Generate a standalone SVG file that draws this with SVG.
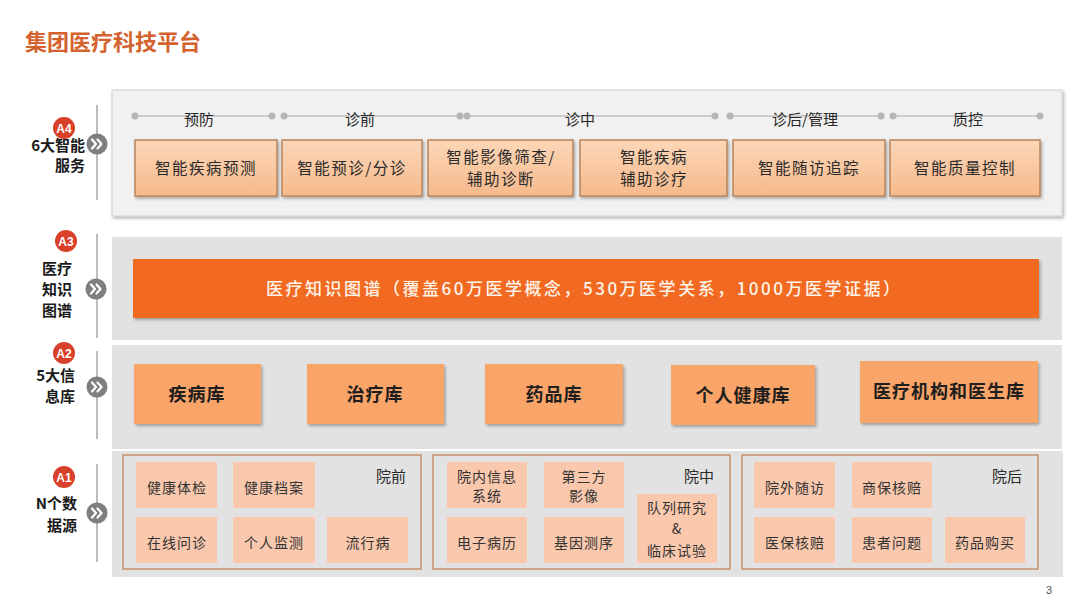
<svg xmlns="http://www.w3.org/2000/svg" width="1080" height="608" viewBox="0 0 1080 608">
<defs>
<style>
.cjk{font-family:"Noto Sans CJK SC","Liberation Sans",sans-serif;}
.title{font-size:22px;font-weight:700;fill:#d4622e;}
.side{font-size:15px;font-weight:700;fill:#1a1a1a;}
.badge{fill:#d9402a;}
.badgeT{font-family:"Liberation Sans",sans-serif;font-size:12px;font-weight:700;fill:#fff;text-anchor:middle;}
.vline{stroke:#a6a6a6;stroke-width:1.5;}
.chev{fill:#7f7f7f;}
.chevP{fill:none;stroke:#fff;stroke-width:2.2;stroke-linecap:round;stroke-linejoin:round;}
.panel{fill:#e2e2e2;}
.panel4{fill:#f1f1f1;stroke:#d0d0d0;stroke-width:1;}
.tl{stroke:#a8a8a8;stroke-width:1.2;}
.dot{fill:#b5b5b5;}
.phase{font-size:15px;fill:#262626;text-anchor:middle;}
.box4{fill:url(#g4);stroke:#b8845c;stroke-width:1.5;}
.t4{font-size:15.5px;fill:#2b2b2b;text-anchor:middle;letter-spacing:1.5px;}
.bar{fill:#f26a22;}
.tbar{font-size:17px;font-weight:500;fill:#fff4ea;text-anchor:middle;}
.box2{fill:#f9a467;}
.t2{font-size:18px;font-weight:700;fill:#1e1e1e;text-anchor:middle;letter-spacing:1px;}
.grp{fill:none;stroke:#c38456;stroke-width:1.3;}
.box1{fill:#f9c8ad;}
.t1{font-size:14px;fill:#333;text-anchor:middle;letter-spacing:1px;}
.gl{font-size:15px;fill:#2b2b2b;text-anchor:end;}
</style>
<linearGradient id="g4" x1="0" y1="0" x2="0" y2="1">
<stop offset="0" stop-color="#fcd7b8"/>
<stop offset="1" stop-color="#f6b98b"/>
</linearGradient>
<filter id="sh" x="-5%" y="-10%" width="110%" height="130%">
<feDropShadow dx="1.5" dy="2" stdDeviation="1.5" flood-color="#000" flood-opacity="0.3"/>
</filter>
<g id="chevron">
<circle r="10.5" class="chev"/>
<path class="chevP" d="M-5,-4.5 L-1,0 L-5,4.5 M0.5,-4.5 L4.5,0 L0.5,4.5"/>
</g>
</defs>

<rect width="1080" height="608" fill="#ffffff"/>

<text id="title" class="cjk title" x="25" y="50">集团医疗科技平台</text>

<!-- A4 -->
<g id="A4-label">
<line class="vline" x1="97" y1="105" x2="97" y2="200"/>
<circle class="badge" cx="64" cy="128" r="11"/>
<text class="badgeT" x="64" y="132.5">A4</text>
<text class="cjk side" x="85" y="151" text-anchor="end">6大智能</text>
<text class="cjk side" x="85" y="171" text-anchor="end">服务</text>
<use href="#chevron" x="97" y="144"/>
</g>
<g id="A4-panel">
<rect class="panel4" x="112" y="90" width="950" height="126" filter="url(#sh)"/>
<g id="timeline">
<line class="tl" x1="135" y1="116" x2="272" y2="116"/>
<circle class="dot" cx="135" cy="116" r="3.5"/><circle class="dot" cx="272" cy="116" r="3.5"/>
<line class="tl" x1="284" y1="116" x2="460" y2="116"/>
<circle class="dot" cx="284" cy="116" r="3.5"/><circle class="dot" cx="460" cy="116" r="3.5"/>
<line class="tl" x1="467" y1="116" x2="715" y2="116"/>
<circle class="dot" cx="467" cy="116" r="3.5"/><circle class="dot" cx="715" cy="116" r="3.5"/>
<line class="tl" x1="730" y1="116" x2="881" y2="116"/>
<circle class="dot" cx="730" cy="116" r="3.5"/><circle class="dot" cx="881" cy="116" r="3.5"/>
<line class="tl" x1="893" y1="116" x2="1040" y2="116"/>
<circle class="dot" cx="893" cy="116" r="3.5"/><circle class="dot" cx="1040" cy="116" r="3.5"/>
<text class="cjk phase" x="199" y="125">预防</text>
<text class="cjk phase" x="360" y="125">诊前</text>
<text class="cjk phase" x="580" y="125">诊中</text>
<text class="cjk phase" x="805" y="125">诊后/管理</text>
<text class="cjk phase" x="968" y="125">质控</text>
</g>
</g>
<g id="s1"><rect class="box4" x="135" y="140" width="142" height="56" filter="url(#sh)"/><text class="cjk t4" x="206" y="174">智能疾病预测</text></g>
<g id="s2"><rect class="box4" x="282" y="140" width="140" height="56" filter="url(#sh)"/><text class="cjk t4" x="352" y="174">智能预诊/分诊</text></g>
<g id="s3"><rect class="box4" x="428" y="140" width="145" height="56" filter="url(#sh)"/><text class="cjk t4" x="501" y="163">智能影像筛查/</text><text class="cjk t4" x="501" y="185">辅助诊断</text></g>
<g id="s4"><rect class="box4" x="580" y="140" width="147" height="56" filter="url(#sh)"/><text class="cjk t4" x="654" y="163">智能疾病</text><text class="cjk t4" x="654" y="185">辅助诊疗</text></g>
<g id="s5"><rect class="box4" x="733" y="140" width="152" height="56" filter="url(#sh)"/><text class="cjk t4" x="809" y="174">智能随访追踪</text></g>
<g id="s6"><rect class="box4" x="890" y="140" width="150" height="56" filter="url(#sh)"/><text class="cjk t4" x="965" y="174">智能质量控制</text></g>

<!-- A3 -->
<g id="A3-label">
<line class="vline" x1="97" y1="234" x2="97" y2="338"/>
<circle class="badge" cx="66" cy="241" r="11"/>
<text class="badgeT" x="66" y="245.5">A3</text>
<text class="cjk side" x="57" y="274" text-anchor="middle">医疗</text>
<text class="cjk side" x="57" y="295" text-anchor="middle">知识</text>
<text class="cjk side" x="57" y="316" text-anchor="middle">图谱</text>
<use href="#chevron" x="96" y="289"/>
</g>
<g id="A3-panel">
<rect class="panel" x="112" y="237" width="950" height="103"/>
</g>
<g id="kg">
<rect class="bar" x="133" y="259" width="906" height="59" filter="url(#sh)"/>
<text class="cjk tbar" x="583" y="295" textLength="634" lengthAdjust="spacing">医疗知识图谱（覆盖60万医学概念，530万医学关系，1000万医学证据）</text>
</g>

<!-- A2 -->
<g id="A2-label">
<line class="vline" x1="97" y1="351" x2="97" y2="439"/>
<circle class="badge" cx="64" cy="353" r="11"/>
<text class="badgeT" x="64" y="357.5">A2</text>
<text class="cjk side" x="75" y="381" text-anchor="end">5大信</text>
<text class="cjk side" x="75" y="402" text-anchor="end">息库</text>
<use href="#chevron" x="97" y="387"/>
</g>
<g id="A2-panel"><rect class="panel" x="112" y="345" width="950" height="104"/></g>
<g id="db1"><rect class="box2" x="134" y="364" width="127" height="60" filter="url(#sh)"/><text class="cjk t2" x="197" y="401">疾病库</text></g>
<g id="db2"><rect class="box2" x="307" y="364" width="137" height="60" filter="url(#sh)"/><text class="cjk t2" x="375" y="401">治疗库</text></g>
<g id="db3"><rect class="box2" x="485" y="364" width="138" height="60" filter="url(#sh)"/><text class="cjk t2" x="554" y="401">药品库</text></g>
<g id="db4"><rect class="box2" x="671" y="365" width="144" height="60" filter="url(#sh)"/><text class="cjk t2" x="743" y="402">个人健康库</text></g>
<g id="db5"><rect class="box2" x="860" y="361" width="178" height="62" filter="url(#sh)"/><text class="cjk t2" x="949" y="398">医疗机构和医生库</text></g>

<!-- A1 -->
<g id="A1-label">
<line class="vline" x1="97" y1="464" x2="97" y2="562"/>
<circle class="badge" cx="64" cy="477" r="11"/>
<text class="badgeT" x="64" y="481.5">A1</text>
<text class="cjk side" x="77" y="509" text-anchor="end">N个数</text>
<text class="cjk side" x="77" y="531" text-anchor="end">据源</text>
<use href="#chevron" x="97" y="513"/>
</g>
<g id="A1-panel"><rect class="panel" x="112" y="451" width="951" height="126" fill="#e0e1e3"/></g>

<g id="pre">
<rect class="grp" x="123" y="455" width="298" height="114"/>
<text class="cjk gl" x="406" y="482">院前</text>
<g id="pre1"><rect class="box1" x="136" y="462" width="81" height="46"/><text class="cjk t1" x="177" y="493">健康体检</text></g>
<g id="pre2"><rect class="box1" x="233" y="462" width="82" height="46"/><text class="cjk t1" x="274" y="493">健康档案</text></g>
<g id="pre3"><rect class="box1" x="136" y="517" width="81" height="46"/><text class="cjk t1" x="177" y="548">在线问诊</text></g>
<g id="pre4"><rect class="box1" x="233" y="517" width="82" height="46"/><text class="cjk t1" x="274" y="548">个人监测</text></g>
<g id="pre5"><rect class="box1" x="327" y="517" width="81" height="46"/><text class="cjk t1" x="368" y="548">流行病</text></g>
</g>

<g id="mid">
<rect class="grp" x="433" y="455" width="297" height="114"/>
<text class="cjk gl" x="714" y="482">院中</text>
<g id="mid1"><rect class="box1" x="447" y="462" width="80" height="46"/><text class="cjk t1" x="487" y="482">院内信息</text><text class="cjk t1" x="487" y="501">系统</text></g>
<g id="mid2"><rect class="box1" x="544" y="462" width="80" height="46"/><text class="cjk t1" x="584" y="482">第三方</text><text class="cjk t1" x="584" y="501">影像</text></g>
<g id="mid3"><rect class="box1" x="447" y="517" width="80" height="46"/><text class="cjk t1" x="487" y="548">电子病历</text></g>
<g id="mid4"><rect class="box1" x="544" y="517" width="80" height="46"/><text class="cjk t1" x="584" y="548">基因测序</text></g>
<g id="mid5"><rect class="box1" x="637" y="494" width="80" height="69"/><text class="cjk t1" x="677" y="513">队列研究</text><text class="cjk t1" x="677" y="534" font-size="13">&amp;</text><text class="cjk t1" x="677" y="556">临床试验</text></g>
</g>

<g id="post">
<rect class="grp" x="742" y="455" width="296" height="114"/>
<text class="cjk gl" x="1022" y="482">院后</text>
<g id="post1"><rect class="box1" x="754" y="462" width="81" height="46"/><text class="cjk t1" x="795" y="493">院外随访</text></g>
<g id="post2"><rect class="box1" x="852" y="462" width="80" height="46"/><text class="cjk t1" x="892" y="493">商保核赔</text></g>
<g id="post3"><rect class="box1" x="754" y="517" width="81" height="46"/><text class="cjk t1" x="795" y="548">医保核赔</text></g>
<g id="post4"><rect class="box1" x="852" y="517" width="80" height="46"/><text class="cjk t1" x="892" y="548">患者问题</text></g>
<g id="post5"><rect class="box1" x="945" y="517" width="80" height="46"/><text class="cjk t1" x="985" y="548">药品购买</text></g>
</g>

<text id="page" x="1046" y="594" font-family="Liberation Sans, sans-serif" font-size="11" fill="#555">3</text>
</svg>
